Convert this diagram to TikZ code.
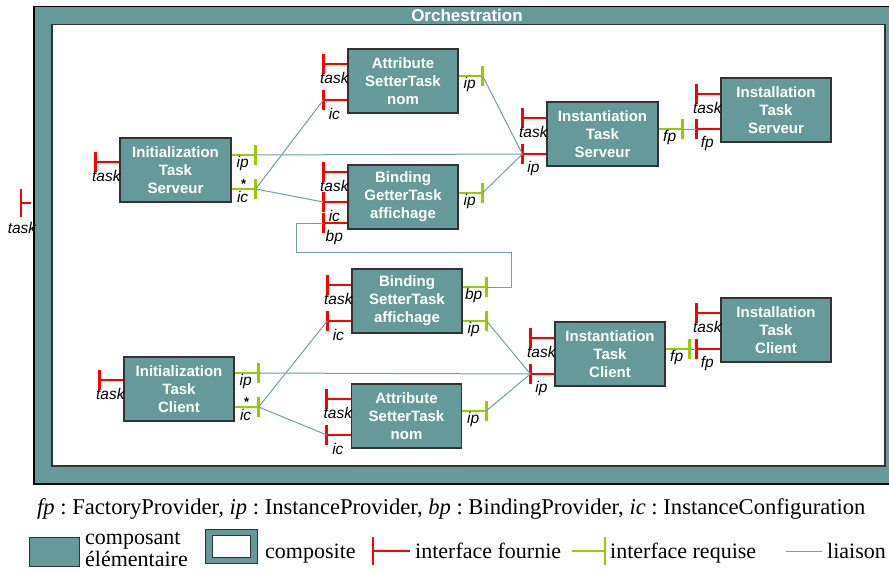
\documentclass[tikz,border=0pt]{standalone}
\usepackage{fontspec}
\setmainfont{Liberation Serif}
\newfontfamily\arial{Liberation Sans}
\usetikzlibrary{calc}
\definecolor{tealc}{RGB}{102,153,153}
\definecolor{reqgreen}{RGB}{153,204,0}
\definecolor{linkc}{RGB}{110,160,165}
\frenchspacing
\newcommand\pprov[4]{%
  \coordinate (#1-e) at (#2.west |- 0,#3);
  \draw[prov] (#1-e) -- ++(-24,0) coordinate (#1);
  \draw[prov] ($(#1)+(0,-10)$) -- ($(#1)+(0,10)$);
  \node[plab] (#1-l) at ($(#1)+(11,14)$) {#4};}
\newcommand\preq[4]{%
  \coordinate (#1-e) at (#2.east |- 0,#3);
  \draw[req] (#1-e) -- ++(24,0) coordinate (#1);
  \draw[req] ($(#1)+(0,-10)$) -- ($(#1)+(0,10)$);
  \node[plab] (#1-l) at ($(#1)+(-13,8)$) {#4};}
\begin{document}
\begin{tikzpicture}[x=1pt,y=-1pt,
  comp/.style={draw=black!80,line width=1.3pt,fill=tealc,text=white,
    font=\arial\bfseries\fontsize{15}{18}\selectfont,align=center,
    minimum width=110pt,minimum height=64pt,inner sep=0pt},
  prov/.style={draw=red,line width=2.8pt},
  req/.style={draw=reqgreen,line width=2.8pt},
  plab/.style={font=\arial\itshape\fontsize{15.5}{15.5}\selectfont,inner sep=0pt},
  link/.style={draw=linkc,line width=1pt},
  leg/.style={font=\fontsize{22}{22}\selectfont,inner sep=0pt}]
\useasboundingbox (0,0) rectangle (889,571);
\clip (0,0) rectangle (889,571);
% composite Orchestration
\node[draw=black,line width=1.5pt,fill=tealc,anchor=north west,inner sep=0pt,
  minimum width=870pt,minimum height=477.5pt] (orch) at (33,5.5) {};
\node[draw=black!80,line width=1.5pt,fill=white,anchor=north west,inner sep=0pt,
  minimum width=833pt,minimum height=441.5pt] (orchin) at (51,23.5) {};
\node[font=\arial\bfseries\fontsize{17}{17}\selectfont,text=white,inner sep=0pt] (title) at (467,15) {Orchestration};
% external task port
\coordinate (ext) at (21,203);
\draw[prov] (ext) -- (31,203);
\draw[prov] (21,189) -- (21,217);
\node[plab] (ext-l) at (22,228) {task};
% boxes
\node[comp,minimum width=111pt] (initS) at (175.5,170) {Initialization\\Task\\Serveur};
\node[comp] (attrS) at (403,81) {Attribute\\SetterTask\\nom};
\node[comp] (bindG) at (403,197) {Binding\\GetterTask\\affichage};
\node[comp,minimum width=111pt] (instS) at (602.5,134) {Instantiation\\Task\\Serveur};
\node[comp] (installS) at (776,110) {Installation\\Task\\Serveur};
\node[comp] (bindS) at (407,301) {Binding\\SetterTask\\affichage};
\node[comp] (attrC) at (406.5,416) {Attribute\\SetterTask\\nom};
\node[comp] (initC) at (179,389) {Initialization\\Task\\Client};
\node[comp] (instC) at (610,354) {Instantiation\\Task\\Client};
\node[comp] (installC) at (776,330) {Installation\\Task\\Client};
% provided ports
\pprov{initS-task}{initS}{162}{task}
\pprov{attrS-task}{attrS}{64}{task}
\pprov{attrS-ic}{attrS}{100}{ic}
\pprov{bindG-task}{bindG}{172}{task}
\pprov{bindG-ic}{bindG}{202}{ic}
\pprov{bindG-bp}{bindG}{223}{bp}
\pprov{instS-task}{instS}{118}{task}
\pprov{instS-ip}{instS}{154}{ip}
\pprov{installS-task}{installS}{94}{task}
\pprov{installS-fp}{installS}{129}{fp}
\pprov{bindS-task}{bindS}{285}{task}
\pprov{bindS-ic}{bindS}{321}{ic}
\pprov{attrC-task}{attrC}{399}{task}
\pprov{attrC-ic}{attrC}{435}{ic}
\pprov{initC-task}{initC}{380}{task}
\pprov{instC-task}{instC}{338}{task}
\pprov{instC-ip}{instC}{374}{ip}
\pprov{installC-task}{installC}{313}{task}
\pprov{installC-fp}{installC}{349}{fp}
% required ports
\preq{initS-ip}{initS}{155}{ip}
\preq{initS-ic}{initS}{189}{ic}
\preq{attrS-ip}{attrS}{76}{ip}
\preq{bindG-ip}{bindG}{193}{ip}
\preq{instS-fp}{instS}{129}{fp}
\preq{bindS-bp}{bindS}{287}{bp}
\preq{bindS-ip}{bindS}{321}{ip}
\preq{attrC-ip}{attrC}{411}{ip}
\preq{initC-ip}{initC}{373}{ip}
\preq{initC-ic}{initC}{407}{ic}
\preq{instC-fp}{instC}{349}{fp}
\node[plab,font=\arial\bfseries\fontsize{13}{13}\selectfont] (starS) at ($(initS-ic)+(-12,-5)$) {*};
\node[plab,font=\arial\bfseries\fontsize{13}{13}\selectfont] (starC) at ($(initC-ic)+(-12,-5)$) {*};
% links
\draw[link] (initS-ip) -- (instS-ip);
\draw[link] (initS-ic) -- (attrS-ic);
\draw[link] (initS-ic) -- (bindG-ic);
\draw[link] (attrS-ip) -- (instS-ip);
\draw[link] (bindG-ip) -- (instS-ip);
\draw[link] (instS-fp) -- (installS-fp);
\draw[link] (bindG-bp) -- (296,223) -- (296,252) -- (511,252) -- (511,287) -- (bindS-bp);
\draw[link] (initC-ip) -- (instC-ip);
\draw[link] (initC-ic) -- (bindS-ic);
\draw[link] (initC-ic) -- (attrC-ic);
\draw[link] (bindS-ip) -- (instC-ip);
\draw[link] (attrC-ip) -- (instC-ip);
\draw[link] (instC-fp) -- (installC-fp);
% legend
\node[leg,font=\fontsize{22.6}{22.6}\selectfont,anchor=base west] (leg1) at (37,514) {\textit{fp} : FactoryProvider, \textit{ip} : InstanceProvider, \textit{bp} : BindingProvider, \textit{ic} : InstanceConfiguration};
\node[draw=black!80,line width=1.3pt,fill=tealc,anchor=north west,inner sep=0pt,
  minimum width=50pt,minimum height=29pt] (legcomp) at (29,537) {};
\node[leg,anchor=west,align=left] (legcompt) at (85,549) {composant\\élémentaire};
\node[draw=black!80,line width=1.3pt,fill=tealc,anchor=north west,inner sep=0pt,
  minimum width=52pt,minimum height=34pt] (legcomposite) at (205,529) {};
\node[draw=black!80,line width=1.3pt,fill=white,inner sep=0pt,
  minimum width=38pt,minimum height=22pt] (legcompositein) at (legcomposite.center) {};
\node[leg,anchor=base west] (legcompositet) at (265,558) {composite};
\coordinate (lp) at (373,551);
\draw[prov] (lp) -- (410,551);
\draw[prov] (373,537) -- (373,565);
\node[leg,anchor=base west] (legprov) at (415,558) {interface fournie};
\coordinate (lr) at (605,551);
\draw[req] (572,551) -- (lr);
\draw[req] (605,537) -- (605,565);
\node[leg,anchor=base west] (legreq) at (610,558) {interface requise};
\coordinate (ll) at (786,551);
\draw[link] (ll) -- (822,551);
\node[leg,anchor=base west] (leglink) at (827,558) {liaison};
\end{tikzpicture}
\end{document}
